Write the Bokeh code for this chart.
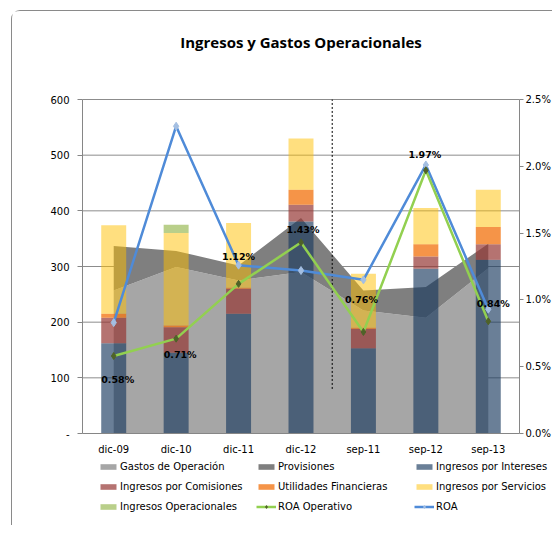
from bokeh.plotting import figure
from bokeh.models import (ColumnDataSource, Range1d, LinearAxis, Legend, LegendItem,
                          SingleIntervalTicker, FixedTicker, NumeralTickFormatter, LabelSet)
from bokeh.core.properties import value
from bokeh.embed import file_html
from bokeh.resources import INLINE

# ---------------- data ----------------
categories = ["dic-09", "dic-10", "dic-11", "dic-12", "sep-11", "sep-12", "sep-13"]
gastos_operacion = [257, 299, 275, 290, 221, 208, 297]
provisiones = [80, 29, 27, 97, 36, 55, 44]
ingresos_intereses = [162, 145, 215, 381, 153, 296, 312]
ingresos_comisiones = [46, 46, 45, 30, 35, 22, 28]
utilidades_financieras = [7, 3, 2, 27, 2, 22, 31]
ingresos_servicios = [159, 166, 116, 92, 97, 65, 67]
ingresos_operacionales = [0, 15, 0, 0, 0, 0, 0]
roa_operativo = [0.0058, 0.0071, 0.0112, 0.0143, 0.0076, 0.0197, 0.0084]
roa = [0.0083, 0.0230, 0.0126, 0.0122, 0.0115, 0.0201, 0.0093]
left_axis_max = 600
right_axis_max = 0.025
left_ticks_interval = 100
right_ticks_interval = 0.005
chart_title = "Ingresos y Gastos Operacionales"

# label placement (pixels) for the ROA Operativo data labels
label_dx = [4, 4, 0, 2, -2, -1, 5]
label_dy = [-23, -16, 27, 13, 32, 16, 18]

FONT = "DejaVu Sans"
N = len(categories)
x_pos = [i + 0.5 for i in range(N)]   # category slots on the x scale

# ---------------- layout (pixels) ----------------
W, H = 541, 515
PLOT_W, PLOT_H = 437, 334       # size of the value area
LEFT_SPACE, TOP_SPACE = 70, 88
RIGHT_SPACE = W - LEFT_SPACE - PLOT_W
BOTTOM_SPACE = H - TOP_SPACE - PLOT_H
upp = left_axis_max / PLOT_H
xpp = N / PLOT_W
y_lo, y_hi = -BOTTOM_SPACE * upp, left_axis_max + TOP_SPACE * upp
x_lo, x_hi = -LEFT_SPACE * xpp, N + RIGHT_SPACE * xpp
k = right_axis_max / left_axis_max

src = ColumnDataSource(dict(
    x=x_pos, cat=categories,
    gastos=gastos_operacion, prov=provisiones,
    intereses=ingresos_intereses, comisiones=ingresos_comisiones,
    utilidades=utilidades_financieras, servicios=ingresos_servicios,
    operacionales=ingresos_operacionales,
    roa_op=roa_operativo, roa=roa,
    roa_op_label=[f"{v*100:.2f}%" for v in roa_operativo],
    dx=label_dx, dy=label_dy,
))

p = figure(x_range=Range1d(x_lo, x_hi), y_range=Range1d(y_lo, y_hi),
           width=W, height=H, output_backend="svg", toolbar_location=None,
           min_border_left=0, min_border_right=0, min_border_top=0, min_border_bottom=0)
p.title.text = ""
p.title.visible = False
p.margin = (10, 0, 0, 11)
p.styles = {"border-top": "1px solid #8a8a8a", "border-left": "1px solid #8a8a8a",
            "border-top-left-radius": "9px"}
p.outline_line_color = None
p.background_fill_color = "white"

p.extra_y_ranges = {"pct": Range1d(y_lo * k, y_hi * k)}

# grid (only across the value area)
p.xgrid.grid_line_color = None
p.ygrid.grid_line_color = None
grid_vals = list(range(left_ticks_interval, left_axis_max + 1, left_ticks_interval))
p.segment(x0=[0] * len(grid_vals), x1=[N] * len(grid_vals), y0=grid_vals, y1=grid_vals,
          line_color="#8c8c8c", line_width=1)

# stacked areas
areas = p.varea_stack(["gastos", "prov"], x="x", source=src,
                      color=["#a6a6a6", "#7f7f7f"])

# stacked bars (semi-transparent)
bars = p.vbar_stack(["intereses", "comisiones", "utilidades", "servicios", "operacionales"],
                    x="x", width=0.4, source=src,
                    fill_color=["#1a3a60", "#953735", "#f2700b", "#ffc000", "#9bbb59"],
                    fill_alpha=[0.65, 0.7, 0.75, 0.5, 0.7],
                    line_color=None)

# divider line between the December and September groups
div_x = categories.index("sep-11")
p.segment(x0=[div_x], x1=[div_x], y0=[80], y1=[left_axis_max],
          line_color="black", line_dash="2 2", line_width=1)

# lines
roa_line = p.line("x", "roa", source=src, y_range_name="pct", line_color="#4f8bd8", line_width=2.5)
roa_pts = p.scatter("x", "roa", source=src, y_range_name="pct", marker="diamond", size=8,
                    fill_color="#a4bfe2", line_color="#a4bfe2")
op_line = p.line("x", "roa_op", source=src, y_range_name="pct", line_color="#92d050", line_width=2.5)
op_pts = p.scatter("x", "roa_op", source=src, y_range_name="pct", marker="diamond", size=7,
                   fill_color="#4f6228", line_color="#4f6228")

labels = LabelSet(x="x", y="roa_op", text="roa_op_label", source=src, y_range_name="pct",
                  x_offset="dx", y_offset="dy", text_align="center", text_baseline="middle",
                  text_font=value(FONT), text_font_style="bold", text_font_size="9.5px",
                  text_color="black")
p.add_layout(labels)

# x axis (category labels)
xa = p.xaxis[0]
xa.fixed_location = 0
xa.bounds = (0, N)
xa.ticker = FixedTicker(ticks=x_pos)
xa.major_label_overrides = {xv: c for xv, c in zip(x_pos, categories)}
xa.axis_line_color = "#868686"
xa.major_tick_line_color = None
xa.minor_tick_line_color = None
xa.major_label_standoff = 4
xa.major_label_text_font = FONT
xa.major_label_text_font_size = "10px"
xa.major_label_text_color = "black"

# left value axis
ya = p.yaxis[0]
ya.fixed_location = 0
ya.ticker = SingleIntervalTicker(interval=left_ticks_interval)
ya.bounds = (0, left_axis_max)
ya.axis_line_color = "#868686"
ya.major_tick_line_color = "#868686"
ya.minor_tick_line_color = None
ya.major_tick_in = 0
ya.major_tick_out = 5
ya.major_label_standoff = 8
ya.major_label_overrides = {0: "-"}
ya.major_label_text_font = FONT
ya.major_label_text_font_size = "10px"
ya.major_label_text_color = "black"

# right percentage axis
ry = LinearAxis(y_range_name="pct", ticker=SingleIntervalTicker(interval=right_ticks_interval),
                formatter=NumeralTickFormatter(format="0.0%"), bounds=(0, right_axis_max),
                fixed_location=N)
ry.axis_line_color = "#868686"
ry.major_tick_line_color = "#868686"
ry.major_tick_in = 0
ry.major_tick_out = 4
ry.minor_tick_line_color = None
ry.major_label_standoff = 2
ry.major_label_text_font = FONT
ry.major_label_text_font_size = "10px"
ry.major_label_text_color = "black"
p.add_layout(ry, "right")

# title, centred over the categories
title_src = ColumnDataSource(dict(x=[N / 2], y=[H - 30], t=[chart_title]))
title = LabelSet(x="x", y="y", y_units="screen", text="t", source=title_src,
                 text_align="center", text_baseline="middle",
                 text_font=value("Open Sans"), text_font_style="bold", text_font_size="15px",
                 text_color="black")
p.add_layout(title)

# legend
items = [
    LegendItem(label="Gastos de Operación", renderers=[areas[0]]),
    LegendItem(label="Provisiones", renderers=[areas[1]]),
    LegendItem(label="Ingresos por Intereses", renderers=[bars[0]]),
    LegendItem(label="Ingresos por Comisiones", renderers=[bars[1]]),
    LegendItem(label="Utilidades Financieras", renderers=[bars[2]]),
    LegendItem(label="Ingresos por Servicios", renderers=[bars[3]]),
    LegendItem(label="Ingresos Operacionales", renderers=[bars[4]]),
    LegendItem(label="ROA Operativo", renderers=[op_line, op_pts]),
    LegendItem(label="ROA", renderers=[roa_line, roa_pts]),
]
legend = Legend(items=items, location=(LEFT_SPACE + 16, 10), orientation="horizontal", ncols=3,
                padding=0, spacing=0, margin=0, label_standoff=2,
                glyph_width=20, glyph_height=7, label_height=20, label_width=136,
                label_text_font=FONT, label_text_font_size="10px", label_text_color="black",
                border_line_color=None, background_fill_alpha=0)
p.add_layout(legend, "center")

open("out.html", "w").write(file_html(p, INLINE))
